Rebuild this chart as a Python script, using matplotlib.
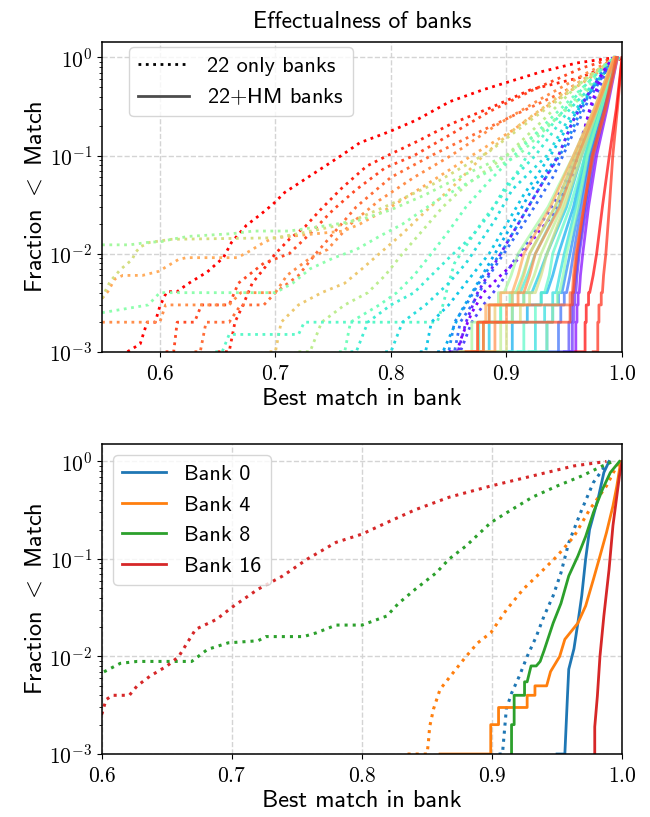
import matplotlib

matplotlib.use("Agg")
import matplotlib.pyplot as plt
import numpy as np
from matplotlib.lines import Line2D
from matplotlib.ticker import FixedLocator, FuncFormatter

plt.rcParams["font.family"] = ["cmss10", "DejaVu Sans"]
plt.rcParams["mathtext.fontset"] = "cm"
plt.rcParams["axes.unicode_minus"] = False

N_BANKS = 22

# ---- top panel: "22 only" banks (dotted), colour index into rainbow ----
only_k = [21, 20, 19, 18, 17, 16, 15, 14, 13, 12, 11, 10, 9, 8, 7, 6, 5, 4, 3, 2, 1, 0]
only_x = [
    [0.572, 0.583, 0.589, 0.596, 0.600, 0.606, 0.615, 0.624, 0.641, 0.655, 0.662, 0.675, 0.687, 0.698, 0.708, 0.757, 0.773, 0.799, 0.822, 0.851, 0.880, 0.903, 0.931, 0.961, 0.983, 0.995],
    [0.650, 0.660, 0.665, 0.672, 0.680, 0.690, 0.700, 0.712, 0.726, 0.739, 0.757, 0.779, 0.797, 0.823, 0.852, 0.887, 0.921, 0.965, 0.992, 1.000],
    [0.605, 0.612, 0.615, 0.630, 0.636, 0.660, 0.668, 0.690, 0.712, 0.730, 0.750, 0.770, 0.795, 0.820, 0.850, 0.885, 0.925, 0.965, 0.995],
    [0.630, 0.635, 0.640, 0.660, 0.670, 0.690, 0.700, 0.720, 0.735, 0.750, 0.770, 0.800, 0.835, 0.870, 0.910, 0.950, 0.980, 0.997],
    [0.550, 0.600, 0.605, 0.660, 0.670, 0.700, 0.710, 0.730, 0.745, 0.765, 0.790, 0.820, 0.852, 0.890, 0.930, 0.970, 0.996],
    [0.550, 0.555, 0.561, 0.568, 0.585, 0.599, 0.616, 0.623, 0.667, 0.677, 0.690, 0.698, 0.736, 0.759, 0.773, 0.800, 0.830, 0.870, 0.905, 0.940, 0.975, 0.996],
    [0.695, 0.700, 0.705, 0.720, 0.740, 0.760, 0.775, 0.790, 0.810, 0.830, 0.855, 0.880, 0.910, 0.945, 0.975, 0.996],
    [0.550, 0.553, 0.557, 0.566, 0.576, 0.579, 0.583, 0.591, 0.610, 0.700, 0.720, 0.760, 0.800, 0.835, 0.865, 0.885, 0.925, 0.965, 0.995],
    [0.720, 0.730, 0.740, 0.760, 0.780, 0.795, 0.810, 0.825, 0.845, 0.865, 0.900, 0.930, 0.960, 0.985, 0.998],
    [0.550, 0.574, 0.589, 0.602, 0.610, 0.625, 0.663, 0.681, 0.712, 0.747, 0.773, 0.800, 0.830, 0.865, 0.900, 0.930, 0.960, 0.985, 0.998],
    [0.550, 0.590, 0.600, 0.660, 0.700, 0.715, 0.730, 0.750, 0.770, 0.790, 0.810, 0.840, 0.875, 0.910, 0.940, 0.970, 0.995],
    [0.755, 0.760, 0.765, 0.790, 0.805, 0.820, 0.835, 0.850, 0.865, 0.885, 0.910, 0.940, 0.970, 0.993],
    [0.648, 0.654, 0.660, 0.720, 0.725, 0.840, 0.845, 0.850, 0.855, 0.865, 0.880, 0.900, 0.918, 0.945, 0.970, 0.993],
    [0.765, 0.770, 0.780, 0.800, 0.820, 0.835, 0.850, 0.870, 0.885, 0.900, 0.925, 0.955, 0.985, 0.998],
    [0.795, 0.800, 0.810, 0.830, 0.850, 0.865, 0.875, 0.890, 0.905, 0.935, 0.955, 0.978, 0.995],
    [0.825, 0.830, 0.835, 0.850, 0.870, 0.885, 0.900, 0.915, 0.938, 0.958, 0.978, 0.995],
    [0.840, 0.845, 0.860, 0.875, 0.890, 0.905, 0.922, 0.945, 0.962, 0.982, 0.995],
    [0.845, 0.850, 0.855, 0.865, 0.880, 0.895, 0.910, 0.930, 0.950, 0.965, 0.980, 0.995],
    [0.850, 0.855, 0.860, 0.870, 0.885, 0.900, 0.920, 0.940, 0.952, 0.970, 0.985, 0.995],
    [0.855, 0.860, 0.870, 0.880, 0.895, 0.905, 0.920, 0.935, 0.950, 0.962, 0.975, 0.987, 0.994],
    [0.853, 0.858, 0.865, 0.875, 0.890, 0.910, 0.930, 0.945, 0.957, 0.972, 0.985, 0.993],
    [0.850, 0.857, 0.862, 0.870, 0.880, 0.895, 0.911, 0.925, 0.940, 0.958, 0.972, 0.983, 0.992],
]
only_y = [
    [1e-3, 1.2e-3, 2e-3, 2e-3, 2.9e-3, 4.1e-3, 4.1e-3, 4.9e-3, 6.5e-3, 9.1e-3, 1.3e-2, 1.95e-2, 2.5e-2, 3.2e-2, 4.2e-2, 0.1, 0.135, 0.176, 0.23, 0.355, 0.47, 0.57, 0.72, 0.88, 0.96, 1.0],
    [1e-3, 1e-3, 2e-3, 3e-3, 5e-3, 7e-3, 1e-2, 1.4e-2, 1.9e-2, 2.8e-2, 4.6e-2, 7.8e-2, 0.1, 0.14, 0.21, 0.31, 0.47, 0.63, 0.87, 1.0],
    [1e-3, 1e-3, 2e-3, 2e-3, 3e-3, 3e-3, 5e-3, 8e-3, 1e-2, 1.6e-2, 2.8e-2, 4.5e-2, 0.075, 0.1, 0.16, 0.28, 0.48, 0.78, 1.0],
    [1e-3, 1e-3, 2e-3, 2e-3, 3e-3, 3e-3, 4e-3, 6e-3, 1e-2, 1.6e-2, 3e-2, 6e-2, 0.1, 0.16, 0.27, 0.45, 0.75, 1.0],
    [2e-3, 2e-3, 3e-3, 3e-3, 4e-3, 4e-3, 6e-3, 9e-3, 1.1e-2, 2e-2, 3.5e-2, 6e-2, 0.1, 0.2, 0.38, 0.7, 1.0],
    [3.5e-3, 4.1e-3, 5.5e-3, 6e-3, 6e-3, 6.6e-3, 8.7e-3, 9.1e-3, 9.1e-3, 1.05e-2, 1.3e-2, 1.44e-2, 1.6e-2, 1.7e-2, 2e-2, 3e-2, 5e-2, 0.1, 0.18, 0.35, 0.65, 1.0],
    [1e-3, 1e-3, 2e-3, 3e-3, 4e-3, 5e-3, 7e-3, 1e-2, 1.6e-2, 2.7e-2, 5e-2, 0.1, 0.2, 0.4, 0.7, 1.0],
    [3.5e-3, 4.2e-3, 5.2e-3, 6.9e-3, 8.7e-3, 1.03e-2, 1.17e-2, 1.3e-2, 1.4e-2, 1.45e-2, 1.6e-2, 2e-2, 3.2e-2, 5e-2, 0.08, 0.11, 0.25, 0.55, 1.0],
    [1e-3, 1e-3, 2e-3, 3e-3, 4e-3, 6e-3, 1e-2, 1.6e-2, 3e-2, 5e-2, 0.1, 0.22, 0.5, 0.85, 1.0],
    [1.23e-2, 1.23e-2, 1.3e-2, 1.33e-2, 1.4e-2, 1.5e-2, 1.6e-2, 1.7e-2, 1.7e-2, 1.95e-2, 2.2e-2, 2.8e-2, 4e-2, 6.5e-2, 0.1, 0.18, 0.35, 0.7, 1.0],
    [2.5e-3, 3e-3, 4e-3, 4e-3, 4e-3, 5e-3, 7e-3, 9e-3, 1.1e-2, 1.5e-2, 2e-2, 3.5e-2, 6e-2, 0.1, 0.22, 0.5, 1.0],
    [1e-3, 1e-3, 2e-3, 3e-3, 4e-3, 6e-3, 1e-2, 1.7e-2, 3e-2, 5.5e-2, 0.11, 0.25, 0.55, 1.0],
    [1e-3, 1e-3, 1.5e-3, 1.5e-3, 2e-3, 2e-3, 3e-3, 5e-3, 8e-3, 1.2e-2, 2.2e-2, 4.5e-2, 0.1, 0.25, 0.55, 1.0],
    [1e-3, 1e-3, 2e-3, 3e-3, 4e-3, 6e-3, 9e-3, 1.5e-2, 2.5e-2, 5e-2, 0.1, 0.3, 0.7, 1.0],
    [1e-3, 1e-3, 2e-3, 3e-3, 5e-3, 8e-3, 1.2e-2, 2.2e-2, 4.5e-2, 0.1, 0.25, 0.55, 1.0],
    [1e-3, 1e-3, 2e-3, 3e-3, 6e-3, 1e-2, 2e-2, 4e-2, 0.1, 0.25, 0.55, 1.0],
    [1e-3, 1e-3, 2.5e-3, 5e-3, 1e-2, 2e-2, 4.5e-2, 0.1, 0.3, 0.65, 1.0],
    [1e-3, 1e-3, 2e-3, 3e-3, 6e-3, 1e-2, 2e-2, 5e-2, 0.12, 0.3, 0.65, 1.0],
    [1e-3, 1e-3, 2e-3, 3e-3, 6e-3, 1.1e-2, 2.5e-2, 6e-2, 0.12, 0.35, 0.7, 1.0],
    [1e-3, 1e-3, 2e-3, 3e-3, 5e-3, 8e-3, 1.4e-2, 2.5e-2, 5e-2, 0.12, 0.35, 0.75, 1.0],
    [1e-3, 1e-3, 2e-3, 4e-3, 8e-3, 2e-2, 5e-2, 0.1, 0.22, 0.45, 0.75, 1.0],
    [1e-3, 1e-3, 1.5e-3, 2.5e-3, 4e-3, 6e-3, 9e-3, 1.5e-2, 2.5e-2, 6.6e-2, 0.3, 0.7, 1.0],
]

# ---- top panel: "22+HM" banks (solid) ----
hm_k = list(range(N_BANKS))
hm_y = [1e-3, 1e-3, 2e-3, 2e-3, 3e-3, 3e-3, 4e-3, 4e-3, 6e-3, 1e-2, 3e-2, 0.1, 0.3, 1.0]
hm_x = [
    [0.955, 0.960, 0.960, 0.961, 0.961, 0.962, 0.962, 0.963, 0.964, 0.966, 0.971, 0.978, 0.987, 0.996],
    [0.950, 0.957, 0.957, 0.958, 0.958, 0.959, 0.959, 0.960, 0.961, 0.963, 0.969, 0.976, 0.986, 0.995],
    [0.945, 0.954, 0.954, 0.956, 0.956, 0.957, 0.957, 0.958, 0.960, 0.962, 0.968, 0.975, 0.985, 0.995],
    [0.930, 0.945, 0.945, 0.947, 0.947, 0.950, 0.950, 0.952, 0.955, 0.958, 0.965, 0.973, 0.984, 0.995],
    [0.920, 0.935, 0.935, 0.940, 0.940, 0.945, 0.945, 0.948, 0.951, 0.955, 0.963, 0.972, 0.983, 0.994],
    [0.890, 0.905, 0.905, 0.918, 0.918, 0.930, 0.930, 0.935, 0.940, 0.945, 0.958, 0.968, 0.981, 0.994],
    [0.870, 0.885, 0.885, 0.905, 0.905, 0.915, 0.915, 0.922, 0.928, 0.935, 0.952, 0.965, 0.980, 0.994],
    [0.910, 0.925, 0.925, 0.933, 0.933, 0.940, 0.940, 0.943, 0.946, 0.950, 0.960, 0.970, 0.982, 0.995],
    [0.860, 0.876, 0.876, 0.895, 0.895, 0.905, 0.905, 0.912, 0.918, 0.925, 0.945, 0.962, 0.978, 0.993],
    [0.900, 0.915, 0.915, 0.925, 0.925, 0.930, 0.930, 0.933, 0.937, 0.940, 0.955, 0.968, 0.980, 0.994],
    [0.865, 0.880, 0.880, 0.895, 0.895, 0.903, 0.903, 0.908, 0.914, 0.920, 0.942, 0.960, 0.977, 0.993],
    [0.920, 0.935, 0.935, 0.940, 0.940, 0.944, 0.944, 0.946, 0.949, 0.952, 0.962, 0.970, 0.982, 0.995],
    [0.855, 0.870, 0.870, 0.885, 0.885, 0.893, 0.893, 0.898, 0.904, 0.910, 0.936, 0.958, 0.976, 0.993],
    [0.880, 0.895, 0.895, 0.905, 0.905, 0.915, 0.915, 0.918, 0.924, 0.930, 0.948, 0.963, 0.978, 0.994],
    [0.885, 0.900, 0.900, 0.912, 0.912, 0.920, 0.920, 0.925, 0.930, 0.935, 0.950, 0.965, 0.979, 0.994],
    [0.865, 0.880, 0.880, 0.890, 0.890, 0.905, 0.905, 0.910, 0.915, 0.920, 0.942, 0.960, 0.977, 0.993],
    [0.860, 0.875, 0.875, 0.882, 0.882, 0.895, 0.895, 0.905, 0.910, 0.915, 0.938, 0.958, 0.976, 0.993],
    [0.875, 0.890, 0.890, 0.900, 0.900, 0.910, 0.910, 0.915, 0.920, 0.925, 0.946, 0.962, 0.978, 0.994],
    [0.870, 0.880, 0.880, 0.885, 0.885, 0.955, 0.955, 0.957, 0.958, 0.960, 0.967, 0.975, 0.986, 0.996],
    [0.865, 0.875, 0.875, 0.955, 0.955, 0.957, 0.957, 0.958, 0.959, 0.961, 0.967, 0.974, 0.985, 0.995],
    [0.975, 0.979, 0.979, 0.980, 0.980, 0.982, 0.982, 0.983, 0.984, 0.986, 0.989, 0.992, 0.996, 1.000],
    [0.960, 0.968, 0.968, 0.969, 0.969, 0.971, 0.971, 0.972, 0.975, 0.978, 0.983, 0.989, 0.995, 1.000],
]

# ---- bottom panel: selected banks ----
bank_names = ["Bank 0", "Bank 4", "Bank 8", "Bank 16"]
bank_colors = ["tab:blue", "tab:orange", "tab:green", "tab:red"]

only_sel_x = [
    [0.905, 0.908, 0.911, 0.915, 0.921, 0.927, 0.934, 0.940, 0.947, 0.953, 0.959, 0.969, 0.978, 0.988, 0.991],
    [0.835, 0.850, 0.851, 0.852, 0.855, 0.860, 0.870, 0.880, 0.889, 0.899, 0.911, 0.924, 0.937, 0.950, 0.963, 0.975, 0.988, 0.996, 0.999],
    [0.590, 0.600, 0.614, 0.627, 0.669, 0.681, 0.697, 0.720, 0.726, 0.755, 0.765, 0.780, 0.800, 0.819, 0.828, 0.841, 0.857, 0.867, 0.880, 0.899, 0.915, 0.931, 0.950, 0.969, 0.985, 0.993],
    [0.590, 0.600, 0.603, 0.608, 0.621, 0.627, 0.637, 0.650, 0.659, 0.672, 0.688, 0.700, 0.720, 0.739, 0.758, 0.780, 0.800, 0.819, 0.841, 0.867, 0.899, 0.931, 0.963, 0.988],
]
only_sel_y = [
    [1e-3, 1e-3, 2.9e-3, 4.2e-3, 6.3e-3, 1e-2, 1.6e-2, 2.6e-2, 4.2e-2, 7.2e-2, 0.147, 0.32, 0.61, 0.94, 1.0],
    [1e-3, 1e-3, 1.3e-3, 1.9e-3, 2.9e-3, 4.6e-3, 6.8e-3, 1e-2, 1.38e-2, 1.75e-2, 3e-2, 4.9e-2, 7.2e-2, 0.107, 0.17, 0.32, 0.56, 0.9, 1.0],
    [6e-3, 6.8e-3, 8.5e-3, 8.9e-3, 8.9e-3, 1.18e-2, 1.38e-2, 1.45e-2, 1.6e-2, 1.6e-2, 1.75e-2, 2.1e-2, 2.1e-2, 2.6e-2, 3.5e-2, 4.9e-2, 7.2e-2, 0.10, 0.136, 0.236, 0.32, 0.43, 0.56, 0.71, 0.9, 1.0],
    [2e-3, 2.6e-3, 3.6e-3, 4e-3, 4e-3, 5e-3, 6.3e-3, 8e-3, 1e-2, 1.9e-2, 2.4e-2, 3.2e-2, 4.9e-2, 6.7e-2, 0.1, 0.148, 0.18, 0.236, 0.32, 0.43, 0.56, 0.71, 0.9, 1.0],
]
hm_sel_x = [
    [0.950, 0.956, 0.958, 0.959, 0.963, 0.966, 0.969, 0.972, 0.975, 0.982, 0.986, 0.990],
    [0.860, 0.899, 0.899, 0.905, 0.905, 0.927, 0.927, 0.933, 0.933, 0.942, 0.945, 0.952, 0.956, 0.966, 0.972, 0.978, 0.983, 0.988, 0.993, 0.996, 0.999],
    [0.915, 0.915, 0.917, 0.917, 0.925, 0.925, 0.927, 0.930, 0.934, 0.937, 0.940, 0.947, 0.953, 0.959, 0.966, 0.972, 0.978, 0.985, 0.991, 0.998],
    [0.979, 0.979, 0.981, 0.983, 0.986, 0.990, 0.993, 0.998, 1.000],
]
hm_sel_y = [
    [1e-3, 1e-3, 3.9e-3, 7.4e-3, 1.2e-2, 2.2e-2, 4.2e-2, 0.1, 0.2, 0.44, 0.77, 1.0],
    [1e-3, 1e-3, 2e-3, 2e-3, 3e-3, 3e-3, 4e-3, 4e-3, 5e-3, 5e-3, 7e-3, 1e-2, 1.5e-2, 2.2e-2, 3.3e-2, 6.2e-2, 0.107, 0.186, 0.35, 0.56, 1.0],
    [1e-3, 2e-3, 2e-3, 4e-3, 4e-3, 5.5e-3, 5.5e-3, 8e-3, 8e-3, 8.9e-3, 1.15e-2, 2.2e-2, 3.5e-2, 6.7e-2, 0.107, 0.17, 0.3, 0.52, 0.77, 1.0],
    [1e-3, 1.9e-3, 3.9e-3, 1e-2, 2.6e-2, 7.8e-2, 0.22, 0.71, 1.0],
]

x_ticks = [0.6, 0.7, 0.8, 0.9, 1.0]
y_ticks = [1e-3, 1e-2, 1e-1, 1e0]


def style_axes(ax, xmin, ymax):
    ax.set_yscale("log")
    ax.set_xlim(xmin, 1.0)
    ax.set_ylim(1e-3, ymax)
    ax.xaxis.set_major_locator(FixedLocator(x_ticks))
    ax.xaxis.set_major_formatter(FuncFormatter(lambda v, p: r"$\mathrm{%.1f}$" % v))
    ax.yaxis.set_major_locator(FixedLocator(y_ticks))
    ax.yaxis.set_major_formatter(
        FuncFormatter(lambda v, p: r"$\mathrm{10^{%d}}$" % int(round(np.log10(v))))
    )
    ax.tick_params(axis="both", which="major", labelsize=15.5)
    ax.tick_params(axis="x", which="major", pad=6)
    ax.grid(True, which="major", linestyle="--", color="#d4d4d4", linewidth=1.0)
    ax.set_axisbelow(True)
    ax.set_xlabel("Best match in bank", fontsize=17.5, labelpad=3)
    ax.set_ylabel("Fraction $<$ Match", fontsize=17.5, labelpad=2)
    for sp in ax.spines.values():
        sp.set_linewidth(1.1)


fig = plt.figure(figsize=(6.5, 8.17), dpi=100)
ax1 = fig.add_axes([0.157, 0.5695, 0.8, 0.3795])
ax2 = fig.add_axes([0.157, 0.0771, 0.8, 0.3791])

cmap = plt.cm.rainbow
for k, xs, ys in zip(only_k, only_x, only_y):
    ax1.plot(xs, ys, linestyle=":", linewidth=2.0, color=cmap(k / (N_BANKS - 1)))
for k, xs in zip(hm_k, hm_x):
    ax1.plot(xs, hm_y, linestyle="-", linewidth=2.0, alpha=0.7, color=cmap(k / (N_BANKS - 1)))

style_axes(ax1, 0.55, 1.45)
ax1.set_title("Effectualness of banks", fontsize=17, pad=10)
handles = [
    Line2D([], [], color="k", linestyle=":", linewidth=2.0),
    Line2D([], [], color="k", linestyle="-", linewidth=2.0, alpha=0.7),
]
ax1.legend(
    handles,
    ["22 only banks", "22$+$HM banks"],
    loc="upper left",
    bbox_to_anchor=(0.0525, 0.982),
    borderaxespad=0.0,
    fontsize=16,
    handlelength=2.3,
)

for name, color, xs, ys, xh, yh in zip(bank_names, bank_colors, only_sel_x, only_sel_y, hm_sel_x, hm_sel_y):
    ax2.plot(xs, ys, linestyle=":", linewidth=2.2, color=color)
    ax2.plot(xh, yh, linestyle="-", linewidth=2.0, color=color, label=name)

style_axes(ax2, 0.6, 1.5)
ax2.legend(loc="upper left", fontsize=16)

fig.savefig("out.png", dpi=100)
